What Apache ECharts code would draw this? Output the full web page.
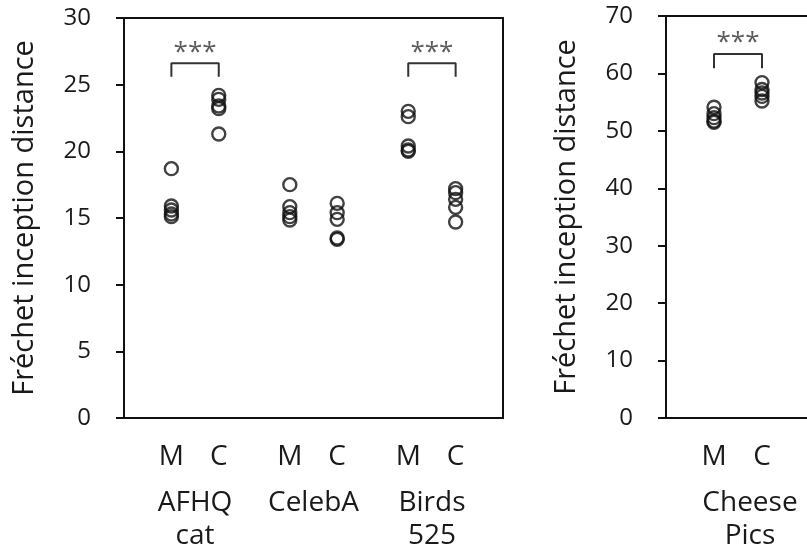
<!DOCTYPE html>
<html>
<head>
<meta charset="utf-8">
<script src="https://cdn.jsdelivr.net/npm/echarts@6/dist/echarts.min.js"></script>
<style>
  html, body { margin: 0; padding: 0; background: #fff; overflow: hidden; }
  #chart { width: 807px; height: 550px; }
</style>
</head>
<body>
<div id="chart"></div>
<script>
// x positions of the M / C columns (left panel) and their labels
var leftPos = [1, 2, 3.5, 4.5, 6, 7];
var leftPosLabels = ["M", "C", "M", "C", "M", "C"];
var leftGroupPos = [1.5, 4, 6.5];
var leftGroups = ["AFHQ\ncat", "CelebA", "Birds\n525"];

var rightPos = [1, 2];
var rightPosLabels = ["M", "C"];
var rightGroupPos = [1.75];
var rightGroups = ["Cheese\nPics"];

// FID values
var afhqM = [18.7, 15.9, 15.6, 15.3, 15.1];
var afhqC = [24.2, 23.9, 23.4, 23.2, 21.3];
var celebaM = [17.5, 15.85, 15.4, 15.1, 14.85];
var celebaC = [16.1, 15.4, 14.9, 13.5, 13.4];
var birdsM = [23.0, 22.6, 20.4, 20.1, 20.0];
var birdsC = [17.2, 16.9, 16.4, 15.8, 14.7];
var cheeseM = [54.1, 53.0, 52.3, 51.7, 51.5];
var cheeseC = [58.4, 57.2, 56.6, 56.0, 55.2];

// significance brackets: [x1, x2, low, high, star y]
var leftBrackets = [[1, 2, 25.6, 26.6, 27.4], [6, 7, 25.6, 26.6, 27.4]];
var rightBrackets = [[1, 2, 60.9, 63.4, 65.3]];

var FONT = "Open Sans";
var TXT = "#1a1a1a";

var chart = echarts.init(document.getElementById("chart"));

function pick(pos, labels) {
  return function (v) {
    for (var i = 0; i < pos.length; i++) {
      if (Math.abs(pos[i] - v) < 1e-6) return labels[i];
    }
    return "";
  };
}

function xAx(grid, min, max, interval, pos, labels, margin, line) {
  return {
    type: "value", gridIndex: grid, min: min, max: max, interval: interval,
    position: "bottom",
    axisLine: { show: !!line, lineStyle: { color: "#111", width: 2 } },
    axisTick: { show: false }, splitLine: { show: false },
    axisLabel: {
      formatter: pick(pos, labels), margin: margin, color: TXT,
      fontFamily: FONT, fontSize: 28, lineHeight: 33
    }
  };
}

function yAx(grid, max, interval) {
  return {
    type: "value", gridIndex: grid, min: 0, max: max, interval: interval,
    name: "Fréchet inception distance", nameLocation: "middle", nameGap: 85,
    nameTextStyle: { color: TXT, fontFamily: FONT, fontSize: 29 },
    axisLine: { show: true, lineStyle: { color: "#111", width: 2 } },
    axisTick: { show: true, inside: false, length: 8, lineStyle: { color: "#111", width: 2 } },
    splitLine: { show: false },
    axisLabel: { margin: 33, color: TXT, fontFamily: FONT, fontSize: 24 }
  };
}

function dots(name, x, vals, xi, yi) {
  return {
    name: name, type: "scatter", xAxisIndex: xi, yAxisIndex: yi,
    symbol: "circle", symbolSize: 13,
    itemStyle: { color: "rgba(0,0,0,0)", borderColor: "#111", borderWidth: 2.4 },
    data: vals.map(function (v) { return [x, v]; }),
    z: 5
  };
}

function bracket(b, xi, yi) {
  return [{
    type: "line", xAxisIndex: xi, yAxisIndex: yi, symbol: "none",
    lineStyle: { color: "#333", width: 2 },
    data: [[b[0], b[2]], [b[0], b[3]], [b[1], b[3]], [b[1], b[2]]]
  }, {
    type: "scatter", xAxisIndex: xi, yAxisIndex: yi, symbolSize: 0,
    label: { show: true, position: "inside", formatter: "***", color: "#333",
      fontFamily: FONT, fontSize: 26 },
    data: [[(b[0] + b[1]) / 2, b[4]]]
  }];
}

var series = [
  dots("AFHQ M", leftPos[0], afhqM, 0, 0),
  dots("AFHQ C", leftPos[1], afhqC, 0, 0),
  dots("CelebA M", leftPos[2], celebaM, 0, 0),
  dots("CelebA C", leftPos[3], celebaC, 0, 0),
  dots("Birds M", leftPos[4], birdsM, 0, 0),
  dots("Birds C", leftPos[5], birdsC, 0, 0),
  dots("Cheese M", rightPos[0], cheeseM, 2, 1),
  dots("Cheese C", rightPos[1], cheeseC, 2, 1)
];
leftBrackets.forEach(function (b) { series = series.concat(bracket(b, 0, 0)); });
rightBrackets.forEach(function (b) { series = series.concat(bracket(b, 2, 1)); });

chart.setOption({
  animation: false,
  backgroundColor: "#fff",
  grid: [
    { left: 124, top: 18, width: 379, height: 400, show: true, borderColor: "#111", borderWidth: 2,
      outerBoundsMode: "none" },
    { left: 666, top: 16, width: 192, height: 402, show: true, borderColor: "#111", borderWidth: 2,
      outerBoundsMode: "none" }
  ],
  xAxis: [
    xAx(0, 0, 8, 0.5, leftPos, leftPosLabels, 23, false),
    xAx(0, 0, 8, 0.5, leftGroupPos, leftGroups, 69, false),
    xAx(1, 0, 4, 0.25, rightPos, rightPosLabels, 23, false),
    xAx(1, 0, 4, 0.25, rightGroupPos, rightGroups, 69, false)
  ],
  yAxis: [yAx(0, 30, 5), yAx(1, 70, 10)],
  // the right panel runs past the edge of the picture: keep its far side open
  graphic: [{
    type: "rect", right: 0, top: 19, z: 100,
    shape: { width: 10, height: 397 },
    style: { fill: "#fff" }, silent: true
  }],
  series: series
});
</script>
</body>
</html>
